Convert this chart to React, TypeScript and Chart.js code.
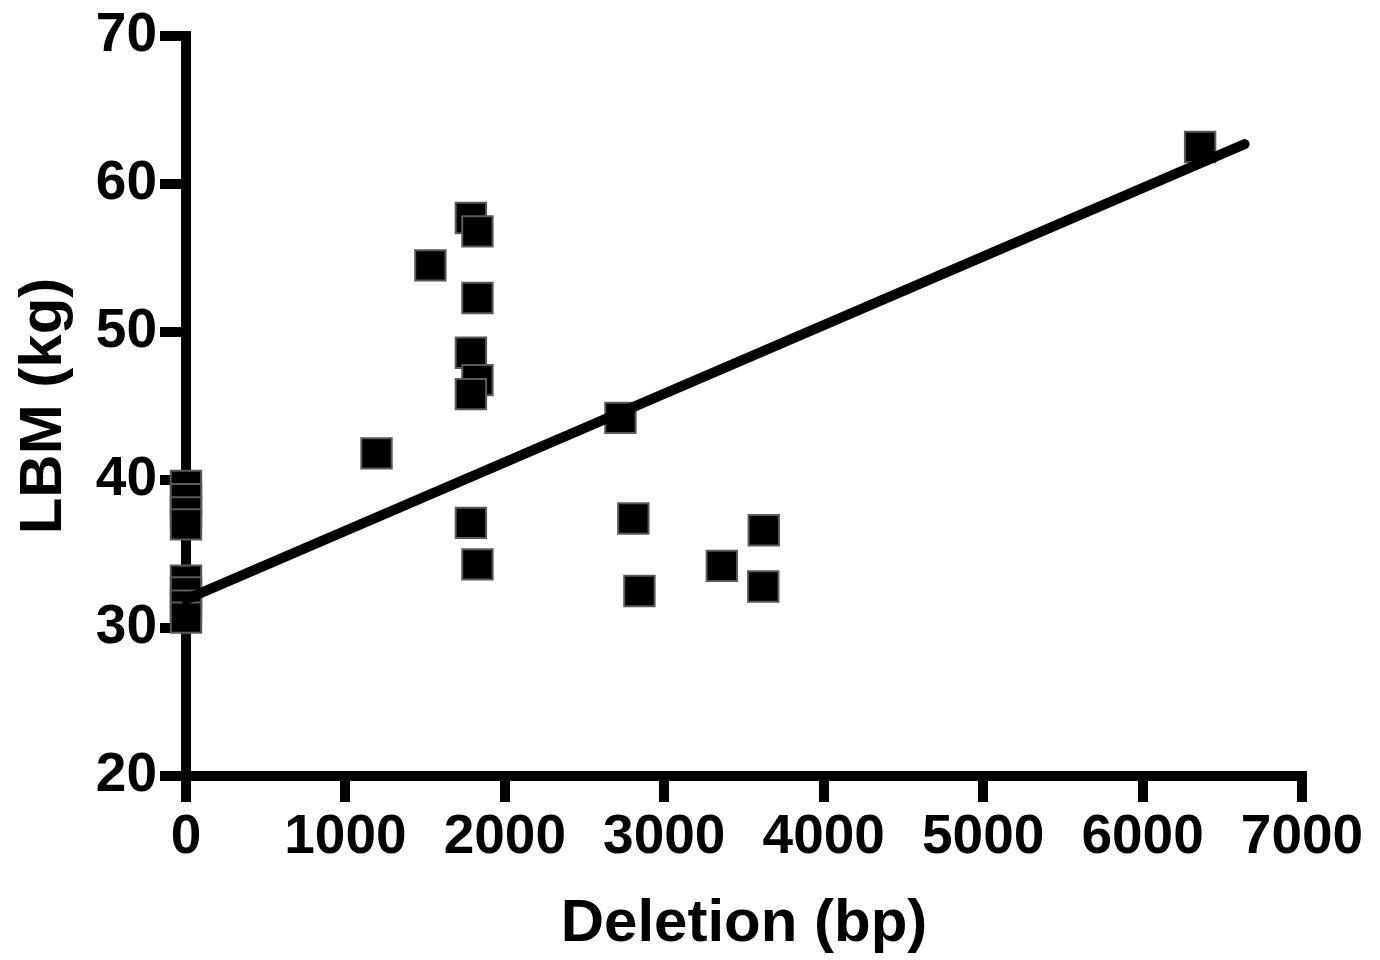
import React, { useEffect, useRef } from "react";
import { Chart, registerables } from "chart.js";

Chart.register(...registerables);

// Scatter data: Deletion (bp) vs LBM (kg)
const deletionBp: number[] = [
  0, 0, 0, 0,
  0, 0, 0, 0,
  1195, 1533, 1787, 1828, 1828, 1787, 1828, 1787, 1787, 1828,
  2725, 2806, 2844, 3361, 3624, 3621, 6361,
];
const lbmKg: number[] = [
  39.6, 38.7, 37.8, 37.0,
  33.2, 32.4, 31.5, 30.7,
  41.8, 54.5, 57.7, 56.8, 52.3, 48.6, 46.75, 45.8, 37.1, 34.3,
  44.2, 37.4, 32.5, 34.2, 36.6, 32.8, 62.5,
];

// Regression line end points
const fitX: number[] = [0, 6640];
const fitY: number[] = [31.93, 62.7];

const xTicks: number[] = [0, 1000, 2000, 3000, 4000, 5000, 6000, 7000];
const yTicks: number[] = [20, 30, 40, 50, 60, 70];

const FONT = "'Liberation Sans', Arial, Helvetica, sans-serif";
const NARROW = "'Liberation Sans Narrow', 'Arial Narrow'";

function narrowAvailable(): boolean {
  try {
    const c = document.createElement("canvas");
    const ctx = c.getContext("2d");
    if (!ctx) return false;
    ctx.font = "bold 60px monospace";
    const a = ctx.measureText("1000ABCabc").width;
    ctx.font = `bold 60px ${NARROW}, monospace`;
    const b = ctx.measureText("1000ABCabc").width;
    return Math.abs(a - b) > 1;
  } catch (e) {
    return false;
  }
}

export default function App() {
  const ref = useRef<HTMLCanvasElement | null>(null);

  useEffect(() => {
    if (!ref.current) return;
    const hasNarrow = narrowAvailable();
    const tickFont = hasNarrow
      ? { family: `${NARROW}, ${FONT}`, size: 59, weight: "bold" }
      : { family: FONT, size: 55, weight: "bold" };

    const scatter = deletionBp.map((x, i) => ({ x, y: lbmKg[i] }));
    const fit = fitX.map((x, i) => ({ x, y: fitY[i] }));

    const chart = new Chart(ref.current, {
      type: "scatter",
      data: {
        datasets: [
          {
            type: "line",
            label: "fit",
            data: fit,
            borderColor: "#000000",
            borderWidth: 10,
            borderCapStyle: "round",
            pointRadius: 0,
            fill: false,
            clip: false,
            order: 0,
          } as any,
          {
            label: "LBM",
            data: scatter,
            pointStyle: "rect",
            pointRadius: 21.5,
            pointHoverRadius: 21.5,
            backgroundColor: "#000000",
            borderColor: "#5a5a5a",
            borderWidth: 2,
            clip: false,
            order: 1,
          } as any,
        ],
      },
      options: {
        responsive: false,
        animation: false,
        events: [],
        layout: { padding: { top: 32, right: 78, left: 0, bottom: 0 } },
        plugins: {
          legend: { display: false },
          tooltip: { enabled: false },
          title: { display: false },
        },
        scales: {
          x: {
            type: "linear",
            min: 0,
            max: 7000,
            afterBuildTicks: (scale: any) => {
              scale.ticks = xTicks.map((v) => ({ value: v }));
            },
            afterFit: (scale: any) => {
              scale.height = 184;
            },
            border: { display: true, color: "#000000", width: 10 },
            grid: {
              drawOnChartArea: false,
              drawTicks: true,
              tickLength: 26,
              lineWidth: 10,
              color: "#000000",
            },
            ticks: {
              color: "#000000",
              padding: 3,
              font: tickFont,
              callback: (v: any) => String(v),
            },
            title: {
              display: true,
              text: "Deletion (bp)",
              color: "#000000",
              padding: { top: 0, bottom: 0 },
              font: { family: FONT, size: 60, weight: "bold" },
            },
          },
          y: {
            type: "linear",
            min: 20,
            max: 70,
            afterBuildTicks: (scale: any) => {
              scale.ticks = yTicks.map((v) => ({ value: v }));
            },
            afterFit: (scale: any) => {
              scale.width = 186;
            },
            border: { display: true, color: "#000000", width: 10 },
            grid: {
              drawOnChartArea: false,
              drawTicks: true,
              tickLength: 26,
              lineWidth: 10,
              color: "#000000",
            },
            ticks: {
              color: "#000000",
              padding: 3,
              font: tickFont,
              callback: (v: any) => String(v),
            },
            title: {
              display: true,
              text: "LBM (kg)",
              color: "#000000",
              padding: { top: 8, bottom: 0 },
              font: { family: FONT, size: 60, weight: "bold" },
            },
          },
        },
      } as any,
    });
    return () => chart.destroy();
  }, []);

  return (
    <div style={{ position: "fixed", left: 0, top: 0, width: 1380, height: 960, background: "#ffffff" }}>
      <canvas ref={ref} width={1380} height={960} style={{ display: "block" }} />
    </div>
  );
}
